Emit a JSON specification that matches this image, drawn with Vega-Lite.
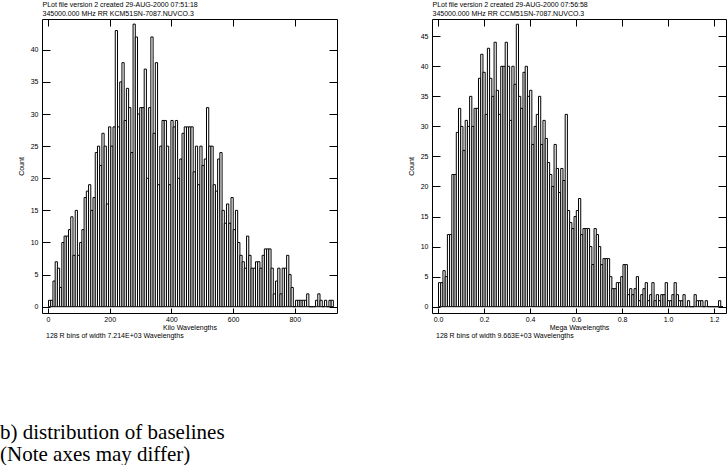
{
  "$schema": "https://vega.github.io/schema/vega-lite/v6.json",
  "background": "white",
  "padding": 0,
  "config": {
    "view": {"stroke": "black", "strokeWidth": 1},
    "font": "Liberation Sans",
    "axis": {"grid": false, "domain": false, "labelFont": "Liberation Sans", "labelFontSize": 7, "labelColor": "black", "tickColor": "black", "tickWidth": 1, "titleFont": "Liberation Sans", "titleFontSize": 7, "titleFontWeight": "normal", "titleColor": "black", "labelFlush": false, "labelOverlap": false}
  },
  "datasets": {
    "left": [
      {"lo":0,"n":1},{"lo":7.21,"n":1},{"lo":14.43,"n":4},{"lo":21.64,"n":7},{"lo":28.86,"n":6},{"lo":36.07,"n":3},{"lo":43.28,"n":10},{"lo":50.5,"n":11},{"lo":57.71,"n":11},{"lo":64.93,"n":12},
      {"lo":72.14,"n":14},{"lo":79.35,"n":8},{"lo":86.57,"n":15},{"lo":93.78,"n":8},{"lo":101.0,"n":10},{"lo":108.21,"n":12},{"lo":115.42,"n":17},{"lo":122.64,"n":18},{"lo":129.85,"n":19},{"lo":137.07,"n":15},
      {"lo":144.28,"n":17},{"lo":151.49,"n":24},{"lo":158.71,"n":25},{"lo":165.92,"n":22},{"lo":173.14,"n":27},{"lo":180.35,"n":25},{"lo":187.56,"n":16},{"lo":194.78,"n":28},{"lo":201.99,"n":25},{"lo":209.21,"n":28},
      {"lo":216.42,"n":43},{"lo":223.63,"n":28},{"lo":230.85,"n":35},{"lo":238.06,"n":38},{"lo":245.28,"n":29},{"lo":252.49,"n":34},{"lo":259.7,"n":31},{"lo":266.92,"n":24},{"lo":274.13,"n":44},{"lo":281.35,"n":42},
      {"lo":288.56,"n":30},{"lo":295.77,"n":31},{"lo":302.99,"n":31},{"lo":310.2,"n":37},{"lo":317.42,"n":20},{"lo":324.63,"n":31},{"lo":331.84,"n":42},{"lo":339.06,"n":27},{"lo":346.27,"n":38},{"lo":353.49,"n":19},
      {"lo":360.7,"n":25},{"lo":367.91,"n":29},{"lo":375.13,"n":29},{"lo":382.34,"n":25},{"lo":389.56,"n":19},{"lo":396.77,"n":29},{"lo":403.98,"n":28},{"lo":411.2,"n":29},{"lo":418.41,"n":20},{"lo":425.63,"n":23},
      {"lo":432.84,"n":27},{"lo":440.05,"n":28},{"lo":447.27,"n":28},{"lo":454.48,"n":28},{"lo":461.7,"n":28},{"lo":468.91,"n":21},{"lo":476.12,"n":25},{"lo":483.34,"n":19},{"lo":490.55,"n":25},{"lo":497.77,"n":22},
      {"lo":504.98,"n":23},{"lo":512.19,"n":31},{"lo":519.41,"n":25},{"lo":526.62,"n":25},{"lo":533.84,"n":19},{"lo":541.05,"n":18},{"lo":548.26,"n":23},{"lo":555.48,"n":24},{"lo":562.69,"n":15},{"lo":569.91,"n":13},
      {"lo":577.12,"n":16},{"lo":584.33,"n":13},{"lo":591.55,"n":17},{"lo":598.76,"n":12},{"lo":605.98,"n":15},{"lo":613.19,"n":10},{"lo":620.4,"n":8},{"lo":627.62,"n":7},{"lo":634.83,"n":6},{"lo":642.05,"n":11},
      {"lo":649.26,"n":8},{"lo":656.47,"n":6},{"lo":663.69,"n":6},{"lo":670.9,"n":7},{"lo":678.12,"n":7},{"lo":685.33,"n":6},{"lo":692.54,"n":8},{"lo":699.76,"n":9},{"lo":706.97,"n":9},{"lo":714.19,"n":9},
      {"lo":721.4,"n":6},{"lo":728.61,"n":2},{"lo":735.83,"n":4},{"lo":743.04,"n":6},{"lo":750.26,"n":2},{"lo":757.47,"n":6},{"lo":764.68,"n":6},{"lo":771.9,"n":8},{"lo":779.11,"n":5},{"lo":786.33,"n":3},
      {"lo":793.54,"n":0},{"lo":800.75,"n":1},{"lo":807.97,"n":1},{"lo":815.18,"n":1},{"lo":822.4,"n":1},{"lo":829.61,"n":1},{"lo":836.82,"n":2},{"lo":844.04,"n":0},{"lo":851.25,"n":0},{"lo":858.47,"n":0},
      {"lo":865.68,"n":1},{"lo":872.89,"n":2},{"lo":880.11,"n":1},{"lo":887.32,"n":0},{"lo":894.54,"n":1},{"lo":901.75,"n":0},{"lo":908.96,"n":1},{"lo":916.18,"n":1}
    ],
    "right": [
      {"lo":0,"n":4},{"lo":0.0097,"n":4},{"lo":0.0193,"n":6},{"lo":0.029,"n":5},{"lo":0.0387,"n":12},{"lo":0.0483,"n":12},{"lo":0.058,"n":22},{"lo":0.0676,"n":22},{"lo":0.0773,"n":29},{"lo":0.087,"n":33},
      {"lo":0.0966,"n":30},{"lo":0.1063,"n":26},{"lo":0.116,"n":31},{"lo":0.1256,"n":30},{"lo":0.1353,"n":35},{"lo":0.1449,"n":30},{"lo":0.1546,"n":33},{"lo":0.1643,"n":33},{"lo":0.1739,"n":38},{"lo":0.1836,"n":42},
      {"lo":0.1933,"n":39},{"lo":0.2029,"n":32},{"lo":0.2126,"n":43},{"lo":0.2222,"n":38},{"lo":0.2319,"n":35},{"lo":0.2416,"n":44},{"lo":0.2512,"n":36},{"lo":0.2609,"n":32},{"lo":0.2706,"n":40},{"lo":0.2802,"n":40},
      {"lo":0.2899,"n":44},{"lo":0.2996,"n":40},{"lo":0.3092,"n":31},{"lo":0.3189,"n":40},{"lo":0.3285,"n":37},{"lo":0.3382,"n":47},{"lo":0.3479,"n":35},{"lo":0.3575,"n":33},{"lo":0.3672,"n":39},{"lo":0.3769,"n":40},
      {"lo":0.3865,"n":35},{"lo":0.3962,"n":36},{"lo":0.4058,"n":27},{"lo":0.4155,"n":30},{"lo":0.4252,"n":32},{"lo":0.4348,"n":35},{"lo":0.4445,"n":27},{"lo":0.4542,"n":31},{"lo":0.4638,"n":28},{"lo":0.4735,"n":24},
      {"lo":0.4832,"n":22},{"lo":0.4928,"n":20},{"lo":0.5025,"n":27},{"lo":0.5121,"n":23},{"lo":0.5218,"n":19},{"lo":0.5315,"n":23},{"lo":0.5411,"n":21},{"lo":0.5508,"n":32},{"lo":0.5605,"n":16},{"lo":0.5701,"n":14},
      {"lo":0.5798,"n":13},{"lo":0.5894,"n":15},{"lo":0.5991,"n":16},{"lo":0.6088,"n":18},{"lo":0.6184,"n":12},{"lo":0.6281,"n":13},{"lo":0.6378,"n":13},{"lo":0.6474,"n":13},{"lo":0.6571,"n":10},{"lo":0.6667,"n":7},
      {"lo":0.6764,"n":13},{"lo":0.6861,"n":12},{"lo":0.6957,"n":10},{"lo":0.7054,"n":7},{"lo":0.7151,"n":8},{"lo":0.7247,"n":8},{"lo":0.7344,"n":8},{"lo":0.7441,"n":5},{"lo":0.7537,"n":3},{"lo":0.7634,"n":3},
      {"lo":0.773,"n":4},{"lo":0.7827,"n":4},{"lo":0.7924,"n":5},{"lo":0.802,"n":7},{"lo":0.8117,"n":7},{"lo":0.8214,"n":2},{"lo":0.831,"n":3},{"lo":0.8407,"n":2},{"lo":0.8503,"n":3},{"lo":0.86,"n":5},
      {"lo":0.8697,"n":1},{"lo":0.8793,"n":2},{"lo":0.889,"n":3},{"lo":0.8987,"n":4},{"lo":0.9083,"n":1},{"lo":0.918,"n":2},{"lo":0.9276,"n":4},{"lo":0.9373,"n":1},{"lo":0.947,"n":2},{"lo":0.9566,"n":1},
      {"lo":0.9663,"n":2},{"lo":0.976,"n":2},{"lo":0.9856,"n":4},{"lo":0.9953,"n":1},{"lo":1.005,"n":1},{"lo":1.0146,"n":2},{"lo":1.0243,"n":4},{"lo":1.0339,"n":2},{"lo":1.0436,"n":1},{"lo":1.0533,"n":1},
      {"lo":1.0629,"n":2},{"lo":1.0726,"n":0},{"lo":1.0823,"n":1},{"lo":1.0919,"n":0},{"lo":1.1016,"n":0},{"lo":1.1112,"n":2},{"lo":1.1209,"n":1},{"lo":1.1306,"n":1},{"lo":1.1402,"n":1},{"lo":1.1499,"n":0},
      {"lo":1.1596,"n":1},{"lo":1.1692,"n":0},{"lo":1.1789,"n":0},{"lo":1.1885,"n":0},{"lo":1.1982,"n":0},{"lo":1.2079,"n":0},{"lo":1.2175,"n":1},{"lo":1.2272,"n":0}
    ]
  },
  "title": {
    "text": ["b) distribution of baselines", "(Note axes may differ)"],
    "orient": "bottom", "anchor": "start", "frame": "group",
    "font": "Liberation Serif", "fontSize": 21, "fontWeight": "normal", "color": "black",
    "lineHeight": 22, "offset": 82, "dx": -42
  },
  "spacing": 95,
  "bounds": "flush",
  "hconcat": [
    {
      "width": 295, "height": 294,
      "data": {"name": "left"},
      "title": {"text": "128 R bins of width 7.214E+03 Wavelengths", "orient": "bottom", "anchor": "start", "frame": "group", "fontSize": 7, "fontWeight": "normal", "font": "Liberation Sans", "color": "black", "offset": 2, "dx": 4},
      "layer": [
        {
          "mark": {"type": "bar", "fill": "white", "stroke": "black", "strokeWidth": 1, "binSpacing": 0},
          "encoding": {
            "x": {"field": "lo", "type": "quantitative", "bin": {"binned": true, "step": 7.214},
                  "scale": {"domain": [-19.45, 936.8], "nice": false, "zero": false},
                  "axis": {"orient": "bottom", "values": [0, 200, 400, 600, 800], "format": "d", "title": "Kilo Wavelengths", "tickSize": -5, "labelPadding": 7, "titlePadding": 1}},
            "y": {"field": "n", "type": "quantitative",
                  "scale": {"domain": [-0.98, 44.8], "nice": false, "zero": false},
                  "axis": {"values": [0, 5, 10, 15, 20, 25, 30, 35, 40], "title": "Count", "tickSize": -8, "labelPadding": 12, "titlePadding": 6}},
            "y2": {"datum": 0}
          }
        },
        {
          "mark": {"type": "point", "opacity": 0},
          "encoding": {
            "x": {"field": "lo", "type": "quantitative",
                  "axis": {"orient": "top", "values": [0, 200, 400, 600, 800], "labels": false, "tickSize": -7,
                           "title": ["PLot file version 2 created 29-AUG-2000 07:51:18", "345000.000 MHz RR KCM51SN-7087.NUVCO.3"],
                           "titleAnchor": "start", "titleAlign": "left", "titlePadding": 2}},
            "y": {"field": "n", "type": "quantitative",
                  "axis": {"orient": "right", "values": [0, 5, 10, 15, 20, 25, 30, 35, 40], "labels": false, "tickSize": -8, "title": null}}
          }
        }
      ],
      "resolve": {"axis": {"x": "independent", "y": "independent"}}
    },
    {
      "width": 294, "height": 294,
      "data": {"name": "right"},
      "title": {"text": "128 R bins of width 9.663E+03 Wavelengths", "orient": "bottom", "anchor": "start", "frame": "group", "fontSize": 7, "fontWeight": "normal", "font": "Liberation Sans", "color": "black", "offset": 2, "dx": 4},
      "layer": [
        {
          "mark": {"type": "bar", "fill": "white", "stroke": "black", "strokeWidth": 1, "binSpacing": 0},
          "encoding": {
            "x": {"field": "lo", "type": "quantitative", "bin": {"binned": true, "step": 0.009663},
                  "scale": {"domain": [-0.0261, 1.2522], "nice": false, "zero": false},
                  "axis": {"orient": "bottom", "values": [0, 0.2, 0.4, 0.6, 0.8, 1.0, 1.2], "format": ".1f", "title": "Mega Wavelengths", "tickSize": -5, "labelPadding": 7, "titlePadding": 1}},
            "y": {"field": "n", "type": "quantitative",
                  "scale": {"domain": [-1.05, 47.87], "nice": false, "zero": false},
                  "axis": {"values": [0, 5, 10, 15, 20, 25, 30, 35, 40, 45], "title": "Count", "tickSize": -8, "labelPadding": 12, "titlePadding": 6}},
            "y2": {"datum": 0}
          }
        },
        {
          "mark": {"type": "point", "opacity": 0},
          "encoding": {
            "x": {"field": "lo", "type": "quantitative",
                  "axis": {"orient": "top", "values": [0, 0.2, 0.4, 0.6, 0.8, 1.0, 1.2], "labels": false, "tickSize": -7,
                           "title": ["PLot file version 2 created 29-AUG-2000 07:56:58", "345000.000 MHz RR CCM51SN-7087.NUVCO.3"],
                           "titleAnchor": "start", "titleAlign": "left", "titlePadding": 2}},
            "y": {"field": "n", "type": "quantitative",
                  "axis": {"orient": "right", "values": [0, 5, 10, 15, 20, 25, 30, 35, 40, 45], "labels": false, "tickSize": -8, "title": null}}
          }
        }
      ],
      "resolve": {"axis": {"x": "independent", "y": "independent"}}
    }
  ]
}
